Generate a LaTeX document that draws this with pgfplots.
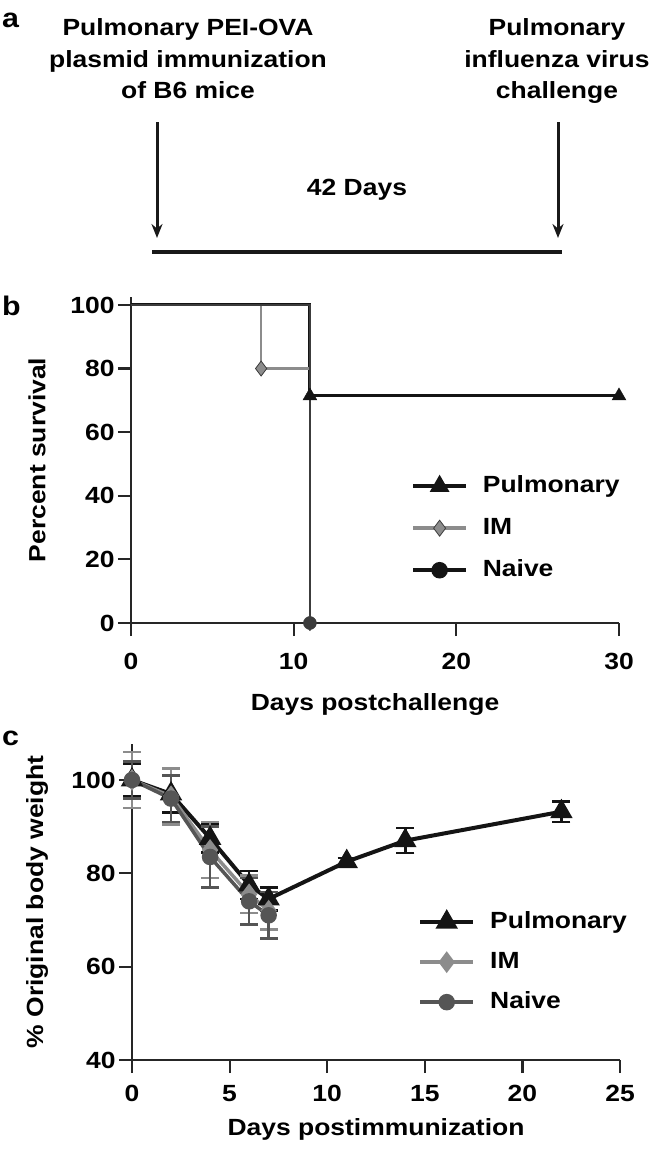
\documentclass[border=0pt]{standalone}
\usepackage{fontspec}
\setmainfont{Liberation Sans}[FakeStretch=1.13]
\usepackage{pgfplots}
\pgfplotsset{compat=1.18}
\usetikzlibrary{arrows.meta}

\definecolor{pulm}{RGB}{20,20,20}
\definecolor{imc}{RGB}{140,140,140}
\definecolor{naive}{RGB}{60,60,60}
\definecolor{naivec}{RGB}{85,85,85}

\newcommand\tf{\fontsize{23.5}{23.5}\selectfont\bfseries}
\newcommand\af{\fontsize{23.5}{23.5}\selectfont\bfseries}
\newcommand\pf{\fontsize{27}{27}\selectfont\bfseries}

\pgfplotsset{
  panel/.style={
    scale only axis, clip=false,
    axis lines*=left,
    axis line style={line width=2.2bp, black!85},
    tick align=outside, major tick length=13bp,
    tick style={line width=2.2bp, black!85},
    /pgf/number format/assume math mode=true,
    ticklabel style={font=\tf},
    legend cell align=left,
    legend style={draw=none, fill=none, font=\tf,
      nodes={inner sep=0pt, text height=17bp, text depth=5bp},
      /tikz/every odd column/.style={column sep=15bp}},
    legend image code/.code={\draw[mark repeat=2,mark phase=2,#1] plot coordinates {(0bp,0bp)(26.5bp,0bp)(53bp,0bp)};},
  },
}

\begin{document}
\begin{tikzpicture}
\path[use as bounding box] (0bp,0bp) rectangle (654bp,-1158bp);

% panel a: schedule
\node[font=\pf, anchor=base west, inner sep=0pt] at (2bp,-27bp) {a};
\node[font=\af, anchor=base, inner sep=0pt] at (188bp,-35bp) {Pulmonary PEI-OVA};
\node[font=\af, anchor=base, inner sep=0pt] at (188bp,-67bp) {plasmid immunization};
\node[font=\af, anchor=base, inner sep=0pt] at (188bp,-98bp) {of B6 mice};
\node[font=\af, anchor=base, inner sep=0pt] at (557bp,-35bp) {Pulmonary};
\node[font=\af, anchor=base, inner sep=0pt] at (557bp,-67bp) {influenza virus};
\node[font=\af, anchor=base, inner sep=0pt] at (557bp,-98bp) {challenge};
\draw[line width=3bp, black!90, -{Stealth[length=14bp,width=11bp]}] (157bp,-122bp) -- (157bp,-238bp);
\draw[line width=3bp, black!90, -{Stealth[length=14bp,width=11bp]}] (558bp,-122bp) -- (558bp,-238bp);
\node[font=\af, anchor=base, inner sep=0pt] at (357bp,-195bp) {42 Days};
\draw[line width=4.5bp, black!90] (152bp,-252bp) -- (562bp,-252bp);

% panel b: survival
\node[font=\pf, anchor=base west, inner sep=0pt] at (2bp,-315bp) {b};
\begin{axis}[panel,
  at={(131bp,-623bp)}, anchor=south west,
  width=488bp, height=326bp,
  xmin=0, xmax=30, ymin=0, ymax=102.5,
  xtick={0,10,20,30}, ytick={0,20,40,60,80,100},
  xticklabel style={yshift=-14bp},
  xlabel={Days postchallenge}, ylabel={Percent survival},
  xlabel style={font=\tf, at={(axis description cs:0.5,0)}, anchor=center, yshift=-81bp},
  ylabel style={font=\tf, at={(axis description cs:0,0.5)}, anchor=center, yshift=94bp},
  legend style={at={(0.568,0.46)}, anchor=north west, row sep=20bp},
]
\addplot[pulm, line width=3bp, forget plot] coordinates {(0,100) (11,100) (11,71.4) (30,71.4)};
\addplot[imc, line width=2.2bp, forget plot] coordinates {(0,100) (8,100) (8,80) (11,80) (11,0)};
\addplot[naive, line width=2.4bp, forget plot] coordinates {(0,100) (11,100) (11,0)};
\addplot[only marks, mark=triangle*, mark size=8bp, pulm, forget plot] coordinates {(11,71.4) (30,71.4)};
\addplot[only marks, mark=diamond*, mark size=7.5bp, mark options={fill=imc, draw=naive, line width=0.8bp}, forget plot] coordinates {(8,80) (11,0)};
\addplot[only marks, mark=*, mark size=6.5bp, naive, forget plot] coordinates {(11,0)};
\addlegendimage{pulm, line width=3.5bp, mark=triangle*, mark size=8bp}
\addlegendentry{Pulmonary}
\addlegendimage{imc, line width=3.5bp, mark=diamond*, mark size=8bp, mark options={fill=imc, draw=naive, line width=0.8bp}}
\addlegendentry{IM}
\addlegendimage{pulm, line width=3.5bp, mark=*, mark size=6.5bp}
\addlegendentry{Naive}
\end{axis}

% panel c: body weight
\node[font=\pf, anchor=base west, inner sep=0pt] at (2bp,-745bp) {c};
\begin{axis}[panel,
  at={(132bp,-1060bp)}, anchor=south west,
  width=488bp, height=316bp,
  xmin=0, xmax=25, ymin=40, ymax=107.7,
  xtick={0,5,10,15,20,25}, ytick={40,60,80,100},
  xticklabel style={yshift=-9bp},
  xlabel={Days postimmunization}, ylabel={\% Original body weight},
  xlabel style={font=\tf, at={(axis description cs:0.5,0)}, anchor=center, yshift=-69bp},
  ylabel style={font=\tf, at={(axis description cs:0,0.5)}, anchor=center, yshift=95bp},
  legend style={at={(0.58,0.478)}, anchor=north west, row sep=18bp},
]
\addplot[pulm, line width=4bp, mark=triangle*, mark size=9bp,
  error bars/.cd, y dir=both, y explicit,
  error bar style={line width=2.5bp, pulm},
  error mark options={rotate=90, mark size=9bp, line width=2.5bp, pulm}]
  coordinates {
  (0,100) +- (0,3.5)
  (2,97) +- (0,4)
  (4,87.5) +- (0,3)
  (6,77.5) +- (0,3)
  (7,74.5) +- (0,2.5)
  (11,82.5) +- (0,0.8)
  (14,87) +- (0,2.7)
  (22,93.2) +- (0,2.2)
  };
\addlegendentry{Pulmonary}
\addplot[imc, line width=3.5bp, mark=diamond*, mark size=8bp,
  error bars/.cd, y dir=both, y explicit,
  error bar style={line width=2.5bp, imc},
  error mark options={rotate=90, mark size=9bp, line width=2.5bp, imc}]
  coordinates {
  (0,100) +- (0,6)
  (2,96.5) +- (0,6)
  (4,85) +- (0,6)
  (6,75.5) +- (0,4)
  (7,72) +- (0,4)
  };
\addlegendentry{IM}
\addplot[naivec, line width=3.5bp, mark=*, mark size=6.5bp,
  error bars/.cd, y dir=both, y explicit,
  error bar style={line width=2.5bp, naivec},
  error mark options={rotate=90, mark size=9bp, line width=2.5bp, naivec}]
  coordinates {
  (0,100) +- (0,4)
  (2,96) +- (0,5)
  (4,83.5) +- (0,6.5)
  (6,74) +- (0,5)
  (7,71) +- (0,5)
  };
\addlegendentry{Naive}
\end{axis}
\end{tikzpicture}
\end{document}
